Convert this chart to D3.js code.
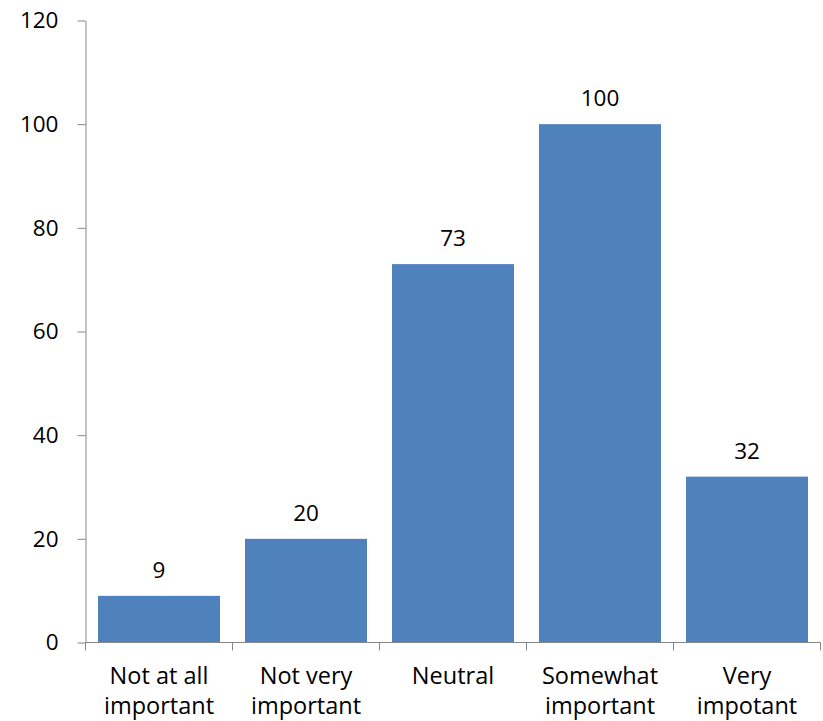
<!DOCTYPE html>
<html><head><meta charset="utf-8">
<script src="https://cdn.jsdelivr.net/npm/d3@7"></script>
<style>body{margin:0;background:#fff;} text{font-family:"Open Sans",sans-serif;fill:#000;}</style>
</head><body>
<svg id="c" width="823" height="721"></svg>
<script>
const categories = ["Not at all important","Not very important","Neutral","Somewhat important","Very impotant"];
const categoryLines = [["Not at all","important"],["Not very","important"],["Neutral"],["Somewhat","important"],["Very","impotant"]];
const values = [9,20,73,100,32];
const yTicks = [0,20,40,60,80,100,120];

const svg = d3.select("#c");
const mLeft = 85.5, mRight = 820.5, mTop = 20.5, mBottom = 642.5;
const x = d3.scaleBand().domain(categories).range([mLeft,mRight]).paddingInner(0.17).paddingOuter(0.085);
const y = d3.scaleLinear().domain([0,120]).range([mBottom,mTop]);
const fs = 22.5;
const fsCat = 23.5;
const axisColor = "#868686";

svg.selectAll("rect.bar").data(values).join("rect")
  .attr("class","bar")
  .attr("x",(d,i)=>x(categories[i]))
  .attr("width",x.bandwidth())
  .attr("y",d=>y(d))
  .attr("height",d=>y(0)-y(d))
  .attr("fill","#4F81BD");

svg.selectAll("text.val").data(values).join("text")
  .attr("class","val")
  .attr("x",(d,i)=>x(categories[i])+x.bandwidth()/2)
  .attr("y",d=>y(d)-18)
  .attr("text-anchor","middle")
  .style("font-size",fs+"px")
  .text(d=>d);

// y axis
const yAxis = d3.axisLeft(y).tickValues(yTicks).tickSize(8).tickPadding(19).tickSizeOuter(0);
const gy = svg.append("g").attr("transform",`translate(${mLeft},0)`).call(yAxis);
gy.select(".domain").attr("stroke",axisColor);
gy.selectAll(".tick line").attr("stroke",axisColor);
gy.selectAll(".tick text").style("font-size",fs+"px").attr("fill","#000").style("font-family","'Open Sans',sans-serif");

// x axis line
svg.append("line").attr("x1",mLeft).attr("x2",mRight).attr("y1",mBottom).attr("y2",mBottom).attr("stroke",axisColor);
// boundary ticks
const bounds = categories.map(c=>x(c)-x.step()*x.paddingInner()/2).concat([mRight]);
svg.selectAll("line.xt").data(bounds).join("line")
  .attr("class","xt")
  .attr("x1",d=>Math.round(d-0.5)+0.5).attr("x2",d=>Math.round(d-0.5)+0.5)
  .attr("y1",mBottom).attr("y2",mBottom+8).attr("stroke",axisColor);

// category labels
const lab = svg.selectAll("text.cat").data(categoryLines).join("text")
  .attr("class","cat")
  .attr("text-anchor","middle")
  .style("font-size",fsCat+"px")
  .attr("transform",(d,i)=>`translate(${x(categories[i])+x.bandwidth()/2},684)`);
lab.selectAll("tspan").data(d=>d).join("tspan")
  .attr("x",0).attr("y",(d,j)=>j*30).text(d=>d);
</script>
</body></html>
